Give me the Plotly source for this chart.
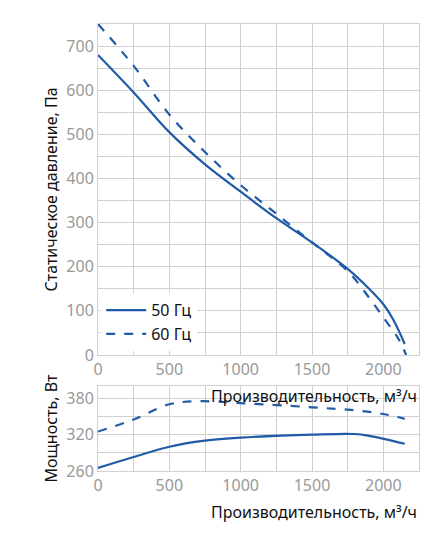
import plotly.graph_objects as go

q_p50 = [0, 250, 500, 750, 1000, 1250, 1500, 1750, 1900, 2000, 2070, 2150]
p50 = [680, 595, 505, 432, 370, 310, 255, 195, 150, 115, 80, 25]
q_p60 = [0, 250, 500, 750, 1000, 1250, 1500, 1750, 1900, 2000, 2100, 2160]
p60 = [750, 655, 545, 460, 385, 320, 255, 190, 130, 85, 40, 0]
q_w50 = [0, 250, 500, 750, 1000, 1500, 1800, 1900, 2150]
w50 = [265, 283, 300, 310, 315, 320, 321, 318, 305]
q_w60 = [0, 250, 500, 700, 1000, 1500, 1800, 2000, 2150]
w60 = [325, 345, 370, 375, 372, 365, 360, 354, 346]
x_title = "Производительность, м³/ч"

C = "#1f5ba6"
F = "Noto Sans"
fig = go.Figure()
fig.add_trace(go.Scatter(x=q_p50, y=p50, mode="lines", line=dict(color=C, width=2.2, shape="spline"), name="50 Гц", xaxis="x", yaxis="y"))
fig.add_trace(go.Scatter(x=q_p60, y=p60, mode="lines", line=dict(color=C, width=2.2, dash="dash", shape="spline"), name="60 Гц", xaxis="x", yaxis="y"))
fig.add_trace(go.Scatter(x=q_w50, y=w50, mode="lines", line=dict(color=C, width=2.2, shape="spline"), showlegend=False, xaxis="x2", yaxis="y2"))
fig.add_trace(go.Scatter(x=q_w60, y=w60, mode="lines", line=dict(color=C, width=2.2, dash="dash", shape="spline"), showlegend=False, xaxis="x2", yaxis="y2"))

ax = dict(showline=True, linecolor="#d0d0d0", gridcolor="#d0d0d0", zeroline=False, ticks="",
          tickfont=dict(color="#999999", size=16, family=F), mirror=True)
fig.update_layout(
    width=432, height=543, plot_bgcolor="white", paper_bgcolor="white",
    margin=dict(l=90, r=21, t=16, b=80), font=dict(family=F, color="#111"),
    xaxis=dict(ax, domain=[0, 1], range=[0, 2250], tickvals=[0, 500, 1000, 1500, 2000],
               minor=dict(dtick=250, showgrid=True, gridcolor="#d0d0d0"), anchor="y"),
    yaxis=dict(ax, domain=[0.2595, 1], range=[0, 750], tickvals=[0, 100, 200, 300, 400, 500, 600, 700],
               minor=dict(dtick=50, showgrid=True, gridcolor="#d0d0d0"), anchor="x",
               title=dict(text="Статическое давление, Па", font=dict(size=16), standoff=4)),
    xaxis2=dict(ax, domain=[0, 1], range=[0, 2250], tickvals=[0, 500, 1000, 1500, 2000],
                minor=dict(dtick=250, showgrid=True, gridcolor="#d0d0d0"), anchor="y2"),
    yaxis2=dict(ax, domain=[0, 0.19], range=[260, 400], tickvals=[260, 320, 380],
                minor=dict(tickvals=[290, 350], showgrid=True, gridcolor="#d0d0d0"), anchor="x2",
                title=dict(text="Мощность, Вт", font=dict(size=16), standoff=4)),
    legend=dict(x=0.01, y=0.268, xanchor="left", yanchor="bottom", bgcolor="white",
                font=dict(size=16, color="#111"), tracegroupgap=6, itemwidth=40),
    annotations=[
        dict(text=x_title, xref="paper", yref="paper", x=1, y=0.2595, yshift=-28,
             xanchor="right", yanchor="top", showarrow=False, font=dict(size=16)),
        dict(text=x_title, xref="paper", yref="paper", x=1, y=0, yshift=-28,
             xanchor="right", yanchor="top", showarrow=False, font=dict(size=16)),
    ],
)
fig.write_html("out.html")
